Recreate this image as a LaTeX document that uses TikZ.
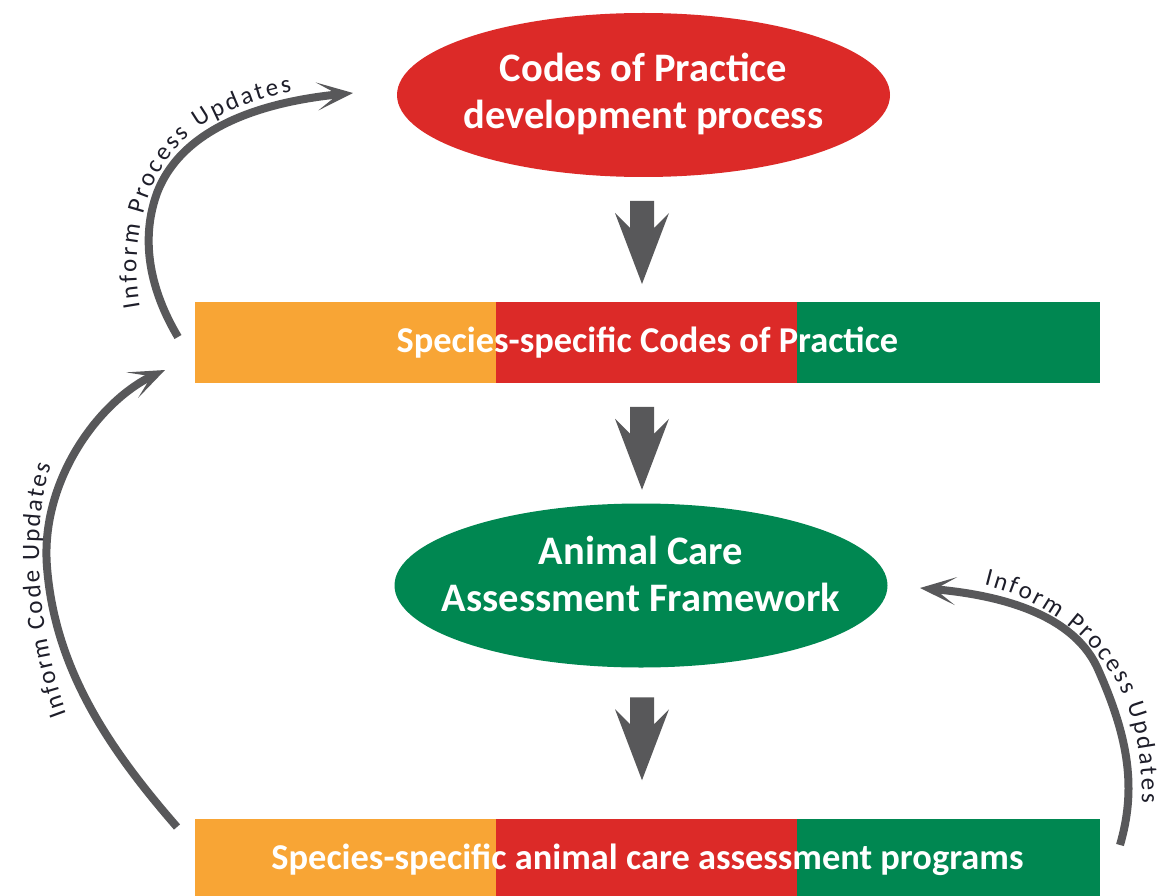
\documentclass[tikz,border=0pt]{standalone}
\usepackage{fontspec}
\setmainfont{Carlito}
\usetikzlibrary{shapes.geometric,arrows.meta,decorations.text,calc}
\definecolor{cpred}{HTML}{DC2A28}
\definecolor{cporange}{HTML}{F8A535}
\definecolor{cpgreen}{HTML}{008751}
\definecolor{cpgray}{HTML}{58585A}
\definecolor{lbltext}{HTML}{1E1E2A}
\newcommand\arrowlblfont{\fontsize{25}{28}\selectfont}
\begin{document}
\begin{tikzpicture}[x=1pt,y=-1pt,
  ellbox/.style={ellipse, inner sep=0pt, minimum width=493pt, minimum height=164pt},
  elltext/.style={text=white, font=\bfseries\fontsize{40.5}{47}\selectfont, align=center, inner sep=0pt},
  bartext/.style={text=white, font=\bfseries\fontsize{36.4}{40}\selectfont, minimum width=905pt, minimum height=81pt, inner sep=0pt},
  curvarrow/.style={draw=cpgray, line width=8pt, -{Stealth[length=36pt,width=28pt,inset=21pt]}},
  pics/downarrow/.style={code={\fill[cpgray] (-12,-41.5) -- (12,-41.5) -- (12,-14.5) -- (27,-29.5) -- (0,41.5) -- (-27,-29.5) -- (-12,-14.5) -- cycle;}},
  lbl/.style={decorate, decoration={text along path, text align={fit to path}, text color=lbltext, text={|\arrowlblfont|#1}}}
]
\fill[white] (0,0) rectangle (1162,896);
\useasboundingbox (0,0) rectangle (1162,896);

% ellipses
\node[ellbox, fill=cpred] (ell1) at (643.5,95) {};
\node[elltext] (ell1t) at (643.5,93.5) {Codes of Practice\\development process};
\node[ellbox, fill=cpgreen] (ell2) at (641,585.5) {};
\node[elltext] (ell2t) at (641,574) {Animal Care\\Assessment Framework};

% bars
\fill[cporange] (195,302) rectangle (496,383);
\fill[cpred] (496,302) rectangle (797,383);
\fill[cpgreen] (797,302) rectangle (1100,383);
\node[bartext] (bar1) at (647.5,342.5) {Species-specific Codes of Practice};
\fill[cporange] (195,819) rectangle (496,896);
\fill[cpred] (496,819) rectangle (797,896);
\fill[cpgreen] (797,819) rectangle (1100,896);
\node[bartext] (bar2) at (647.5,859.5) {Species-specific animal care assessment programs};

% block arrows
\pic at ($(ell1.south)!0.5!(bar1.north)+(-3.5,3)$) {downarrow};
\pic at ($(bar1.south)!0.5!(ell2.north)+(-2.25,5)$) {downarrow};
\pic at ($(ell2.south)!0.5!(bar2.north)+(-2.25,-4.5)$) {downarrow};

% curved arrows
\coordinate (ltS) at (178,337);
\coordinate (ltE) at (353,93);
\coordinate (lbS) at (177,827);
\coordinate (lbE) at (165,370);
\coordinate (rS) at (1120,845);
\coordinate (rE) at (920,588);

\draw[curvarrow] (ltS) .. controls (150,290) and (140,240) .. (157,193) .. controls (185,120) and (280,100) .. (ltE);
\draw[curvarrow] (lbS) .. controls (110,750) and (55,670) .. (47,567) .. controls (40,480) and (100,400) .. (lbE);
\draw[curvarrow] (rS) .. controls (1136,790) and (1130,740) .. (1097,667) .. controls (1070,610) and (990,594) .. (rE);

% labels along arrows
\path[lbl={Inform Process Updates}] (140,307) .. controls (128,240) and (146,158) .. (209,121) .. controls (238,106) and (264,97) .. (292,92);
\path[lbl={Inform Code Updates}] (67,714) .. controls (39,640) and (29,530) .. (51,465);
\path[lbl={Inform Process Updates}] (984,585) .. controls (1058,603) and (1122,658) .. (1136,736) .. controls (1140,758) and (1142,780) .. (1142,803);
\end{tikzpicture}
\end{document}
